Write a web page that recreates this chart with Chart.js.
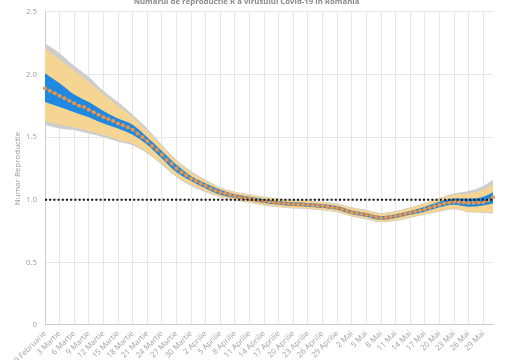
<!DOCTYPE html>
<html>
<head>
<meta charset="utf-8">
<script src="https://cdn.jsdelivr.net/npm/chart.js@4.4.1/dist/chart.umd.min.js"></script>
<style>
  html, body { margin: 0; padding: 0; background: #fff; overflow: hidden; }
  #wrap { position: absolute; left: 0; top: -6px; width: 510px; height: 400px; }
</style>
</head>
<body>
<div id="wrap"><canvas id="rChart"></canvas></div>
<script>
// Day labels: 29 Februarie .. 31 Mai
const months = [['Februarie', 29, 29], ['Martie', 1, 31], ['Aprilie', 1, 30], ['Mai', 1, 31]];
const days = [];
months.forEach(([name, from, to]) => {
  for (let d = from; d <= to; d++) days.push(d + ' ' + name);
});

const yTicks = [0, 0.5, 1.0, 1.5, 2.0, 2.5];
const threshold = 1.0;

// R mean, one value per day
const rMean = [
  1.89, 1.87, 1.85, 1.83, 1.81, 1.79, 1.77, 1.75, 1.74, 1.72, 1.70, 1.68,
  1.66, 1.645, 1.63, 1.61, 1.595, 1.58, 1.56, 1.53, 1.50, 1.47, 1.43, 1.40,
  1.36, 1.32, 1.29, 1.25, 1.22, 1.195, 1.17, 1.15, 1.13, 1.11, 1.09, 1.075,
  1.06, 1.05, 1.04, 1.03, 1.02, 1.015, 1.01, 1.00, 0.995, 0.99, 0.985, 0.98,
  0.975, 0.972, 0.968, 0.965, 0.963, 0.962, 0.96, 0.957, 0.953, 0.95, 0.945, 0.94,
  0.935, 0.925, 0.912, 0.90, 0.893, 0.886, 0.88, 0.872, 0.863, 0.855, 0.857, 0.863,
  0.87, 0.878, 0.886, 0.895, 0.905, 0.915, 0.925, 0.937, 0.948, 0.96, 0.97, 0.978,
  0.985, 0.982, 0.978, 0.975, 0.976, 0.978, 0.98, 0.995, 1.02
];

// interval bands, sampled every 3 days (day index)
const bandDays = [0, 3, 6, 9, 12, 15, 18, 21, 24, 27, 30, 33, 36, 39, 42, 45,
  48, 51, 54, 57, 60, 63, 66, 69, 72, 75, 78, 81, 84, 87, 90, 92];

const blueHi = [2.01, 1.93, 1.84, 1.78, 1.71, 1.65, 1.60, 1.50, 1.39, 1.28, 1.19, 1.13, 1.08, 1.045, 1.025, 1.005,
  0.99, 0.98, 0.975, 0.965, 0.95, 0.915, 0.895, 0.87, 0.885, 0.91, 0.945, 0.985, 1.01, 1.01, 1.025, 1.06];
const blueLo = [1.78, 1.74, 1.70, 1.66, 1.61, 1.57, 1.52, 1.44, 1.33, 1.22, 1.15, 1.09, 1.04, 1.015, 0.995, 0.975,
  0.96, 0.95, 0.945, 0.935, 0.92, 0.885, 0.865, 0.84, 0.855, 0.88, 0.905, 0.94, 0.96, 0.945, 0.955, 0.97];

const yellowHi = [2.21, 2.12, 2.03, 1.94, 1.84, 1.75, 1.66, 1.55, 1.43, 1.31, 1.22, 1.15, 1.095, 1.06, 1.04, 1.02,
  1.005, 0.995, 0.99, 0.98, 0.965, 0.935, 0.915, 0.89, 0.905, 0.935, 0.97, 1.01, 1.04, 1.05, 1.08, 1.12];
const yellowLo = [1.63, 1.60, 1.58, 1.55, 1.52, 1.48, 1.45, 1.38, 1.29, 1.19, 1.12, 1.07, 1.025, 1.00, 0.98, 0.96,
  0.945, 0.935, 0.93, 0.92, 0.905, 0.87, 0.85, 0.825, 0.835, 0.86, 0.885, 0.91, 0.93, 0.905, 0.90, 0.90];

const grayHi = [2.25, 2.17, 2.07, 1.98, 1.87, 1.78, 1.68, 1.57, 1.44, 1.32, 1.23, 1.16, 1.10, 1.065, 1.045, 1.025,
  1.01, 1.0, 0.995, 0.985, 0.97, 0.94, 0.92, 0.895, 0.91, 0.94, 0.975, 1.015, 1.05, 1.07, 1.11, 1.16];
const grayLo = [1.60, 1.57, 1.555, 1.53, 1.50, 1.465, 1.435, 1.37, 1.28, 1.18, 1.11, 1.06, 1.02, 0.995, 0.975, 0.955,
  0.94, 0.93, 0.925, 0.915, 0.90, 0.865, 0.845, 0.82, 0.83, 0.855, 0.88, 0.905, 0.925, 0.90, 0.895, 0.89];

const band = vals => vals.map((v, i) => ({ x: days[bandDays[i]], y: v }));

const FONT = "'Open Sans', sans-serif";
const GRID = '#e6e6e6';

function bandPair(hi, lo, color, idx, order) {
  const common = { borderWidth: 0, pointRadius: 0, cubicInterpolationMode: 'monotone', order };
  return [
    { label: 'hi', data: band(hi), fill: { target: idx + 1 }, backgroundColor: color, ...common },
    { label: 'lo', data: band(lo), fill: false, backgroundColor: color, ...common }
  ];
}

new Chart(document.getElementById('rChart'), {
  type: 'line',
  data: {
    labels: days,
    datasets: [
      ...bandPair(grayHi, grayLo, '#cdcdcd', 0, 7),
      ...bandPair(yellowHi, yellowLo, '#f6d592', 2, 5),
      ...bandPair(blueHi, blueLo, '#1f88e0', 4, 3),
      {
        label: 'R', data: rMean, order: 1, fill: false,
        borderColor: '#7f8fa0', borderWidth: 1.5, tension: 0.3,
        pointRadius: 2, pointBackgroundColor: '#ea944a', pointBorderWidth: 0
      },
      {
        label: 'prag', order: 0, fill: false,
        data: [{ x: days[0], y: threshold }, { x: days[days.length - 1], y: threshold }],
        borderColor: '#111', borderWidth: 2, borderDash: [2, 2.2], pointRadius: 0
      }
    ]
  },
  options: {
    responsive: true,
    maintainAspectRatio: false,
    animation: false,
    layout: { padding: { right: 17 } },
    plugins: {
      legend: { display: false },
      tooltip: { enabled: false },
      title: {
        display: true,
        text: 'Numarul de reproductie R a virusului Covid-19 in Romania',
        color: '#8a8a8a',
        font: { family: FONT, size: 7.8, weight: 'bold' },
        padding: { top: 3, bottom: 5.6 }
      }
    },
    scales: {
      x: {
        afterFit: s => { s.height = 69; },
        grid: { color: GRID, drawTicks: false },
        border: { color: '#cccccc' },
        ticks: {
          autoSkip: false, maxRotation: 45, minRotation: 45, padding: 4,
          color: '#a0a0a0', font: { family: FONT, size: 7.8 },
          callback: function (v, i) { return i % 3 === 0 ? days[i] : null; }
        }
      },
      y: {
        min: 0, max: 2.5,
        afterFit: s => { s.width = 45; },
        afterBuildTicks: s => { s.ticks = yTicks.map(v => ({ value: v })); },
        grid: { color: GRID, drawTicks: false },
        border: { color: '#cccccc' },
        title: {
          display: true, text: 'Numar Reproductie', color: '#999',
          font: { family: FONT, size: 8 }, padding: { top: 13, bottom: 0 }
        },
        ticks: {
          padding: 8, color: '#a0a0a0', font: { family: FONT, size: 7.8 },
          callback: v => v === 0 ? '0' : v.toFixed(1)
        }
      }
    }
  }
});
</script>
</body>
</html>
